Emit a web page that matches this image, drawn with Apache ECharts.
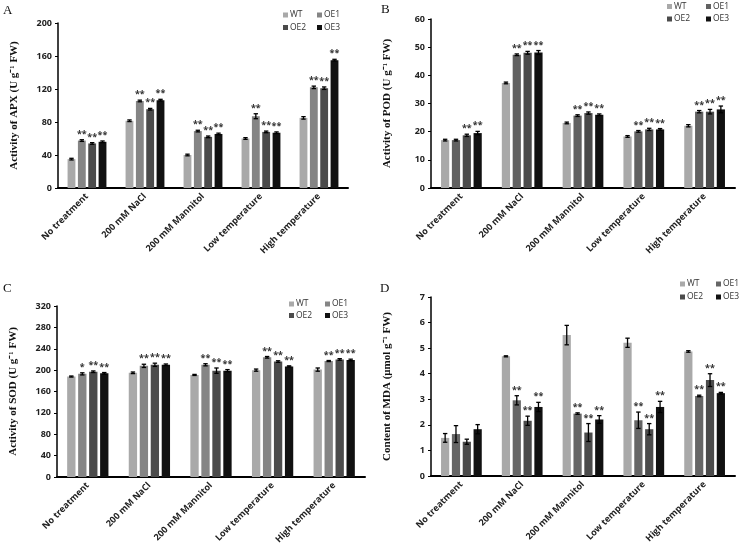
<!DOCTYPE html>
<html><head><meta charset="utf-8">
<script src="https://cdn.jsdelivr.net/npm/echarts@6/dist/echarts.min.js"></script>
<style>html,body{margin:0;padding:0;background:#fff}#c{width:745px;height:548px}</style>
</head><body><div id="c"></div>
<script>
const categories = ['No treatment','200 mM NaCl','200 mM Mannitol','Low temperature','High temperature'];
const seriesNames = ['WT','OE1','OE2','OE3'];

// Panel A: APX
const apxWT  = [35, 81.5, 40, 60, 85];
const apxOE1 = [57.5, 105.5, 69, 87, 122];
const apxOE2 = [54, 95.5, 62, 68, 121];
const apxOE3 = [56, 106.5, 65.5, 67, 155];
const apxErrWT  = [1, 1, 1, 1, 1.5];
const apxErrOE1 = [1, 1, 1, 3, 1.5];
const apxErrOE2 = [1, 1, 1, 1, 1.5];
const apxErrOE3 = [1, 1, 1, 1, 1];
const apxStars = [['','**','**','**'],['','**','**','**'],['','**','**','**'],['','**','**','**'],['','**','**','**']];
const apxTicks = [0, 200, 40];

// Panel B: POD
const podWT  = [17, 37.3, 23.1, 18.3, 22.1];
const podOE1 = [17, 47.3, 25.7, 20.1, 27.1];
const podOE2 = [18.7, 48, 26.6, 20.8, 27.1];
const podOE3 = [19.5, 48.1, 26, 20.8, 27.9];
const podErrWT  = [0.3, 0.3, 0.3, 0.3, 0.4];
const podErrOE1 = [0.3, 0.3, 0.3, 0.3, 0.4];
const podErrOE2 = [0.4, 0.5, 0.4, 0.4, 0.8];
const podErrOE3 = [0.6, 0.7, 0.3, 0.3, 1.2];
const podStars = [['','','**','**'],['','**','**','**'],['','**','**','**'],['','**','**','**'],['','**','**','**']];
const podTicks = [0, 60, 10];

// Panel C: SOD
const sodWT  = [188, 195, 191, 200, 201];
const sodOE1 = [193, 208, 210, 224, 217];
const sodOE2 = [197, 210, 199, 216, 220];
const sodOE3 = [194, 210, 199, 207, 219];
const sodErrWT  = [1, 1.5, 1, 2, 3];
const sodErrOE1 = [2, 3, 2, 1.5, 1];
const sodErrOE2 = [1.5, 3, 5, 1.5, 1.5];
const sodErrOE3 = [1.5, 1.5, 2, 1, 1.5];
const sodStars = [['','*','**','**'],['','**','**','**'],['','**','**','**'],['','**','**','**'],['','**','**','**']];
const sodTicks = [0, 320, 40];

// Panel D: MDA
const mdaWT  = [1.49, 4.68, 5.51, 5.21, 4.87];
const mdaOE1 = [1.64, 2.96, 2.44, 2.18, 3.13];
const mdaOE2 = [1.34, 2.16, 1.7, 1.83, 3.75];
const mdaOE3 = [1.83, 2.7, 2.21, 2.7, 3.24];
const mdaErrWT  = [0.17, 0.02, 0.38, 0.18, 0.03];
const mdaErrOE1 = [0.33, 0.18, 0.03, 0.32, 0.03];
const mdaErrOE2 = [0.1, 0.18, 0.35, 0.22, 0.25];
const mdaErrOE3 = [0.18, 0.18, 0.15, 0.22, 0.03];
const mdaStars = [['','','',''],['','**','**','**'],['','**','**','**'],['','**','**','**'],['','**','**','**']];
const mdaTicks = [0, 7, 1];

const CAT_GAP = 0.33, BAR_GAP = 0.32;

const panels = [
  {letter:'A', name:'Activity of APX (U g\u207B\u00B9 FW)', vals:[apxWT,apxOE1,apxOE2,apxOE3], errs:[apxErrWT,apxErrOE1,apxErrOE2,apxErrOE3], stars:apxStars, ticks:apxTicks,
   grid:{left:58, top:23, width:290, height:165}, colors:['#a9a9a9','#858585','#4b4b4b','#111111'],
   letterPos:[3,4], legCols:[283, 317], legRows:[15, 27.5]},
  {letter:'B', name:'Activity of POD (U g\u207B\u00B9 FW)', vals:[podWT,podOE1,podOE2,podOE3], errs:[podErrWT,podErrOE1,podErrOE2,podErrOE3], stars:podStars, ticks:podTicks,
   grid:{left:431, top:19, width:304, height:169}, colors:['#a9a9a9','#616161','#4b4b4b','#111111'],
   letterPos:[381,3], legCols:[667, 706], legRows:[6.5, 19]},
  {letter:'C', name:'Activity of SOD (U g\u207B\u00B9 FW)', vals:[sodWT,sodOE1,sodOE2,sodOE3], errs:[sodErrWT,sodErrOE1,sodErrOE2,sodErrOE3], stars:sodStars, ticks:sodTicks,
   grid:{left:57, top:306, width:308, height:171}, colors:['#a9a9a9','#858585','#4b4b4b','#111111'],
   letterPos:[3,282], legCols:[289, 325], legRows:[304, 315.5]},
  {letter:'D', name:'Content of MDA (\u03BCmol g\u207B\u00B9 FW)', vals:[mdaWT,mdaOE1,mdaOE2,mdaOE3], errs:[mdaErrWT,mdaErrOE1,mdaErrOE2,mdaErrOE3], stars:mdaStars, ticks:mdaTicks,
   grid:{left:431, top:297, width:304, height:179}, colors:['#a9a9a9','#666666','#4b4b4b','#111111'],
   letterPos:[380,282], legCols:[680, 716], legRows:[284, 297]}
];

const grids=[], xAxes=[], yAxes=[], series=[], legends=[], graphics=[];
panels.forEach((p, pi) => {
  grids.push(Object.assign({containLabel:false}, p.grid));
  xAxes.push({type:'category', gridIndex:pi, data:categories,
    axisLine:{lineStyle:{color:'#000', width:2}}, axisTick:{show:false},
    axisLabel:{interval:0, rotate:45, margin:7, fontFamily:'Open Sans', fontWeight:'bold', fontSize:9, color:'#222'}});
  yAxes.push({type:'value', gridIndex:pi, min:p.ticks[0], max:p.ticks[1], interval:p.ticks[2],
    name:p.name, nameLocation:'middle', nameGap:38, nameTextStyle:{fontFamily:'Liberation Serif', fontWeight:'bold', fontSize:11, color:'#111'},
    axisLine:{show:true, lineStyle:{color:'#000', width:1.5}}, axisTick:{show:true, length:3, lineStyle:{color:'#000'}},
    splitLine:{show:false},
    axisLabel:{fontFamily:'Open Sans', fontWeight:'bold', fontSize:9, color:'#222', margin:6}});
  seriesNames.forEach((sn, si) => {
    series.push({type:'bar', name:sn, xAxisIndex:pi, yAxisIndex:pi, data:p.vals[si],
      barCategoryGap:(CAT_GAP*100)+'%', barGap:(BAR_GAP*100)+'%',
      itemStyle:{color:p.colors[si]}, silent:true, animation:false});
  });
  seriesNames.forEach((sn, si) => {
    const data = p.vals[si].map((v, ci) => [ci, v, p.errs[si][ci]]);
    series.push({type:'custom', name:sn, xAxisIndex:pi, yAxisIndex:pi, data:data, z:5, animation:false, silent:true,
      encode:{x:0, y:1},
      renderItem:(params, api) => {
        const c = api.value(0), v = api.value(1), e = api.value(2);
        const base = api.coord([c, v]);
        const band = api.size([1, 0])[0];
        const used = band * (1 - CAT_GAP);
        const bw = used / (4 + 3 * BAR_GAP);
        const x = base[0] - used / 2 + si * bw * (1 + BAR_GAP) + bw / 2;
        const top = api.coord([c, v + e])[1];
        const bot = api.coord([c, v - e])[1];
        const cap = 2.2;
        const st = {stroke:'#000', lineWidth:1.3};
        const star = p.stars[c][si];
        const children = [
          {type:'line', shape:{x1:x, y1:top, x2:x, y2:bot}, style:st},
          {type:'line', shape:{x1:x-cap, y1:top, x2:x+cap, y2:top}, style:st},
          {type:'line', shape:{x1:x-cap, y1:bot, x2:x+cap, y2:bot}, style:st}
        ];
        if (star) children.push({type:'text', style:{text:star, x:x, y:top-1, align:'center', verticalAlign:'bottom',
          font:'bold 9px "Open Sans"', fill:'#333'}});
        return {type:'group', children:children};
      }});
  });
  seriesNames.forEach((sn, si) => {
    const col = si % 2, row = Math.floor(si / 2);
    legends.push({left:p.legCols[col], top:p.legRows[row] - 6, orient:'horizontal', padding:0,
      itemWidth:5, itemHeight:5, itemGap:0, icon:'rect', selectedMode:false,
      textStyle:{fontFamily:'Open Sans', fontSize:8.5, color:'#333', lineHeight:12, padding:[0,0,0,-3]},
      data:[{name:sn, itemStyle:{color:p.colors[si]}}]});
  });
  graphics.push({type:'text', left:p.letterPos[0], top:p.letterPos[1], style:{text:p.letter, font:'13px "Liberation Serif"', fill:'#111'}});
});

const chart = echarts.init(document.getElementById('c'), null, {renderer:'canvas'});
chart.setOption({backgroundColor:'#fff', animation:false, grid:grids, xAxis:xAxes, yAxis:yAxes, series:series, legend:legends, graphic:graphics});
</script></body></html>
